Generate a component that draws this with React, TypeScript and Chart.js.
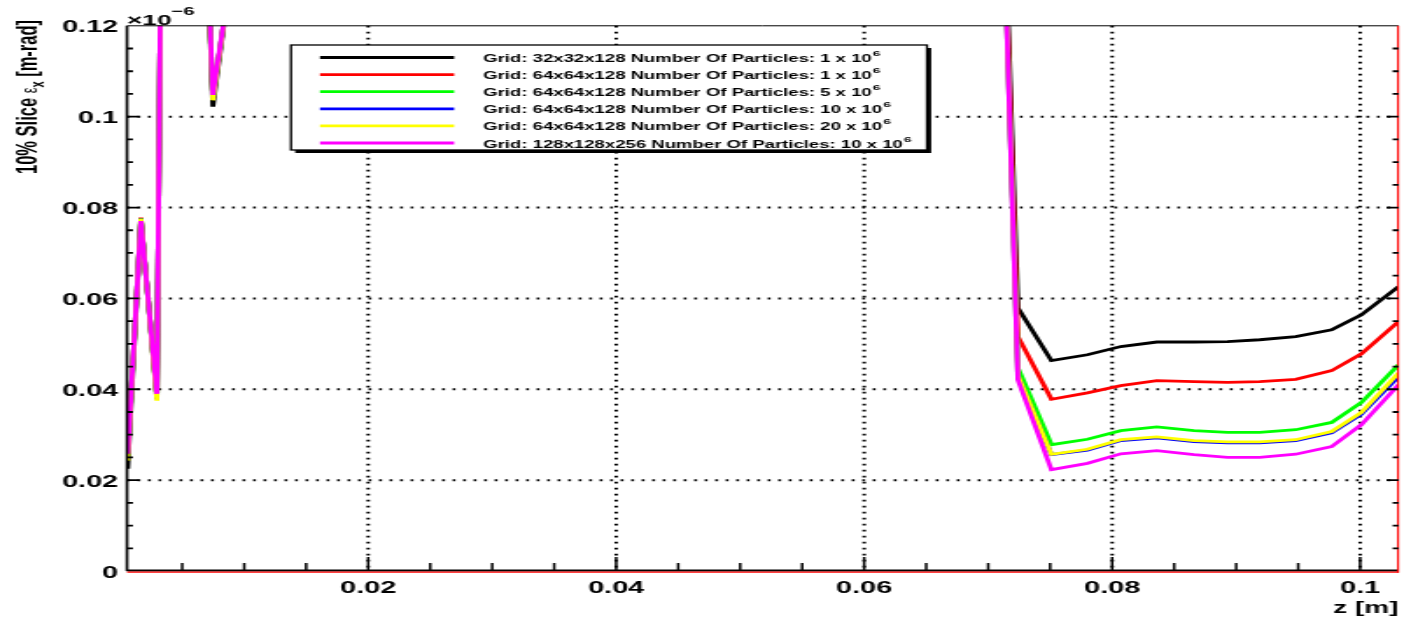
import { useEffect, useRef } from 'react';
import { Chart, registerables } from 'chart.js';

Chart.register(...registerables);

// ---- data (values in units of 1e-6 m-rad) ----
const zValues = [
  0.0006, 0.00167, 0.00296, 0.0043, 0.006, 0.00747, 0.0088, 0.012, 0.02, 0.03, 0.04, 0.05, 0.06, 0.07,
  0.0724, 0.0751, 0.078, 0.0807, 0.0836, 0.0866, 0.0893, 0.0919, 0.0948, 0.0977, 0.1001, 0.1031,
];

const black32 = [
  0.0225, 0.0773, 0.0383, 0.45, 0.21, 0.1022, 0.129, 0.3, 0.6, 0.8, 0.85, 0.8, 0.6, 0.25,
  0.0579, 0.0463, 0.0476, 0.0494, 0.0504, 0.0504, 0.0505, 0.0509, 0.0516, 0.0531, 0.0564, 0.0626,
];
const red64n1 = [
  0.0248, 0.0778, 0.0383, 0.45, 0.21, 0.1038, 0.129, 0.3, 0.6, 0.8, 0.85, 0.8, 0.6, 0.25,
  0.0516, 0.0378, 0.0392, 0.0408, 0.0419, 0.0417, 0.0415, 0.0417, 0.0422, 0.0441, 0.0478, 0.0549,
];
const green64n5 = [
  0.0248, 0.0776, 0.0383, 0.45, 0.21, 0.1038, 0.129, 0.3, 0.6, 0.8, 0.85, 0.8, 0.6, 0.25,
  0.0447, 0.0278, 0.029, 0.0309, 0.0317, 0.0309, 0.0305, 0.0305, 0.0311, 0.0327, 0.0371, 0.0454,
];
const blue64n10 = [
  0.0246, 0.0775, 0.0378, 0.45, 0.21, 0.1038, 0.129, 0.3, 0.6, 0.8, 0.85, 0.8, 0.6, 0.25,
  0.0428, 0.0256, 0.0266, 0.0287, 0.0293, 0.0285, 0.0282, 0.0282, 0.0287, 0.0304, 0.0345, 0.0428,
];
const yellow64n20 = [
  0.0243, 0.0775, 0.0375, 0.45, 0.21, 0.1036, 0.129, 0.3, 0.6, 0.8, 0.85, 0.8, 0.6, 0.25,
  0.043, 0.0257, 0.0268, 0.0289, 0.0295, 0.0287, 0.0284, 0.0284, 0.0289, 0.0307, 0.0349, 0.0436,
];
const magenta128n10 = [
  0.0258, 0.077, 0.039, 0.45, 0.21, 0.1048, 0.129, 0.3, 0.6, 0.8, 0.85, 0.8, 0.6, 0.25,
  0.0421, 0.0223, 0.0237, 0.0258, 0.0265, 0.0256, 0.025, 0.025, 0.0257, 0.0274, 0.0322, 0.041,
];

const seriesValues = [black32, red64n1, green64n5, blue64n10, yellow64n20, magenta128n10];
const gridSizes = ['32x32x128', '64x64x128', '64x64x128', '64x64x128', '64x64x128', '128x128x256'];
const particleCounts = ['1', '1', '5', '10', '20', '10'];

const yTickValues = [0, 0.02, 0.04, 0.06, 0.08, 0.1, 0.12];
const yTickLabels = ['0', '0.02', '0.04', '0.06', '0.08', '0.1', '0.12'];
const xTickValues = [0.02, 0.04, 0.06, 0.08, 0.1];
const xTickLabels = ['0.02', '0.04', '0.06', '0.08', '0.1'];

// ---- styles ----
const seriesColors = ['#000000', '#ff0000', '#00ff00', '#0000ff', '#ffff00', '#ff00ff'];
const CANVAS_W = 802;
const CANVAS_H = 617;
const FONT = '"Liberation Sans", Arial, Helvetica, sans-serif';

const rootPlugin = {
  id: 'rootStyle',
  beforeDatasetsDraw(chart: any) {
    const { ctx, chartArea: a, scales } = chart;
    const xs = scales.x;
    const ys = scales.y;
    ctx.save();
    ctx.strokeStyle = '#000';
    ctx.lineWidth = 2;
    ctx.setLineDash([1.6, 4.4]);
    for (const v of yTickValues) {
      if (v <= 0 || v >= 0.12) continue;
      const y = ys.getPixelForValue(v);
      ctx.beginPath();
      ctx.moveTo(a.left, y);
      ctx.lineTo(a.right, y);
      ctx.stroke();
    }
    for (const v of xTickValues) {
      const x = xs.getPixelForValue(v);
      ctx.beginPath();
      ctx.moveTo(x, a.top);
      ctx.lineTo(x, a.bottom);
      ctx.stroke();
    }
    ctx.restore();
  },
  afterDatasetsDraw(chart: any) {
    const { ctx, chartArea: a, scales } = chart;
    const xs = scales.x;
    const ys = scales.y;
    ctx.save();
    ctx.setLineDash([]);
    // frame
    ctx.strokeStyle = '#000';
    ctx.lineWidth = 1;
    ctx.beginPath();
    ctx.moveTo(a.left, a.top);
    ctx.lineTo(a.right, a.top);
    ctx.stroke();
    ctx.lineWidth = 1.6;
    ctx.beginPath();
    ctx.moveTo(a.left, a.top);
    ctx.lineTo(a.left, a.bottom);
    ctx.stroke();
    ctx.lineWidth = 2;
    ctx.beginPath();
    ctx.moveTo(a.left, a.bottom - 0.5);
    ctx.lineTo(a.right, a.bottom - 0.5);
    ctx.stroke();
    ctx.strokeStyle = '#ff0000';
    ctx.lineWidth = 1.3;
    ctx.beginPath();
    ctx.moveTo(a.left, a.bottom + 1.2);
    ctx.lineTo(a.right, a.bottom + 1.2);
    ctx.stroke();
    ctx.lineWidth = 1.1;
    ctx.beginPath();
    ctx.moveTo(a.right - 0.3, a.top);
    ctx.lineTo(a.right - 0.3, a.bottom + 1.8);
    ctx.stroke();

    // ticks
    ctx.strokeStyle = '#000';
    ctx.lineWidth = 1.8;
    for (let i = 1; i < 24; i++) {
      const v = i * 0.005;
      const y = ys.getPixelForValue(v);
      const len = i % 4 === 0 ? 6.9 : 3.4;
      ctx.beginPath();
      ctx.moveTo(a.left, y);
      ctx.lineTo(a.left + len, y);
      ctx.moveTo(a.right, y);
      ctx.lineTo(a.right - len, y);
      ctx.stroke();
    }
    ctx.lineWidth = 1.5;
    for (let i = 1; i <= 20; i++) {
      const v = i * 0.005;
      const x = xs.getPixelForValue(v);
      const len = i % 4 === 0 ? 14 : 8;
      ctx.beginPath();
      ctx.moveTo(x, a.bottom);
      ctx.lineTo(x, a.bottom - len);
      ctx.stroke();
    }

    // tick labels
    ctx.fillStyle = '#000';
    ctx.font = `bold 16.5px ${FONT}`;
    ctx.textAlign = 'right';
    ctx.textBaseline = 'middle';
    yTickValues.forEach((v, i) => {
      ctx.fillText(yTickLabels[i], a.left - 5, ys.getPixelForValue(v) + 2);
    });
    ctx.textAlign = 'center';
    ctx.textBaseline = 'alphabetic';
    xTickValues.forEach((v, i) => {
      ctx.fillText(xTickLabels[i], xs.getPixelForValue(v), 593);
    });

    // exponent label
    ctx.textAlign = 'left';
    ctx.font = `bold 15px ${FONT}`;
    ctx.fillText('\u00d710', a.left, 25);
    const wx = ctx.measureText('\u00d710').width;
    ctx.font = `bold 11.5px ${FONT}`;
    ctx.fillText('\u22126', a.left + wx, 15);

    // x title
    ctx.font = `bold 16px ${FONT}`;
    ctx.textAlign = 'right';
    ctx.fillText('z [m]', a.right, 613);

    // y title (rotated, right-aligned at top)
    ctx.save();
    ctx.translate(21, 0);
    ctx.rotate(-Math.PI / 2);
    ctx.textAlign = 'left';
    const parts = [
      { t: '10% Slice ', f: `bold 16.5px ${FONT}`, dv: 0 },
      { t: '\u03b5', f: `13px ${FONT}`, dv: 0 },
      { t: 'x', f: `bold 11px ${FONT}`, dv: 4 },
      { t: ' [m-rad]', f: `bold 16.5px ${FONT}`, dv: 0 },
    ];
    let total = 0;
    for (const p of parts) {
      ctx.font = p.f;
      total += ctx.measureText(p.t).width;
    }
    let u = -(20 + total);
    for (const p of parts) {
      ctx.font = p.f;
      ctx.fillText(p.t, u, p.dv);
      u += ctx.measureText(p.t).width;
    }
    ctx.restore();

    // legend
    const lx = 166.2;
    const ly = 45;
    const lw = 363.3;
    const lh = 105;
    ctx.fillStyle = '#000';
    ctx.fillRect(lx + 2.4, ly + 3, lw, lh);
    ctx.fillStyle = '#fff';
    ctx.fillRect(lx, ly, lw, lh);
    ctx.strokeStyle = '#000';
    ctx.lineWidth = 1.3;
    ctx.strokeRect(lx, ly, lw, lh);
    seriesValues.forEach((_, i) => {
      const ry = 57.5 + i * 17.1;
      ctx.strokeStyle = seriesColors[i];
      ctx.lineWidth = 2.8;
      ctx.beginPath();
      ctx.moveTo(182.8, ry);
      ctx.lineTo(259.4, ry);
      ctx.stroke();
      ctx.fillStyle = '#000';
      ctx.textAlign = 'left';
      ctx.textBaseline = 'alphabetic';
      ctx.font = `bold 10.6px ${FONT}`;
      const txt = `Grid: ${gridSizes[i]} Number Of Particles: ${particleCounts[i]} x 10`;
      ctx.fillText(txt, 276, ry + 4.5);
      const w = ctx.measureText(txt).width;
      ctx.font = `bold 8px ${FONT}`;
      ctx.fillText('6', 276 + w + 0.5, ry - 1.5);
    });
    ctx.restore();
  },
};

export default function App() {
  const ref = useRef<HTMLCanvasElement | null>(null);
  useEffect(() => {
    document.body.style.margin = '0';
    const canvas = ref.current;
    if (!canvas) return;
    const chart = new Chart(canvas, {
      type: 'line',
      data: {
        datasets: seriesValues.map((vals, i) => ({
          label: `Grid: ${gridSizes[i]} Number Of Particles: ${particleCounts[i]} x 10^6`,
          data: zValues.map((z, k) => ({ x: z, y: vals[k] })),
          borderColor: seriesColors[i],
          backgroundColor: seriesColors[i],
          borderWidth: 2.8,
          pointRadius: 0,
          tension: 0,
          fill: false,
          clip: 0,
          order: seriesValues.length - i,
        })),
      },
      options: {
        animation: false,
        responsive: false,
        devicePixelRatio: 1,
        layout: { padding: { left: 72.55, right: 3.1, top: 25.8, bottom: 46 } },
        plugins: { legend: { display: false }, tooltip: { enabled: false } },
        scales: {
          x: { type: 'linear', min: 0.00055, max: 0.1031, display: false },
          y: { type: 'linear', min: 0, max: 0.12, display: false },
        },
      },
      plugins: [rootPlugin],
    });
    return () => chart.destroy();
  }, []);
  return (
    <canvas
      ref={ref}
      width={CANVAS_W}
      height={CANVAS_H}
      style={{ width: '1404px', height: '617px', display: 'block' }}
    />
  );
}
